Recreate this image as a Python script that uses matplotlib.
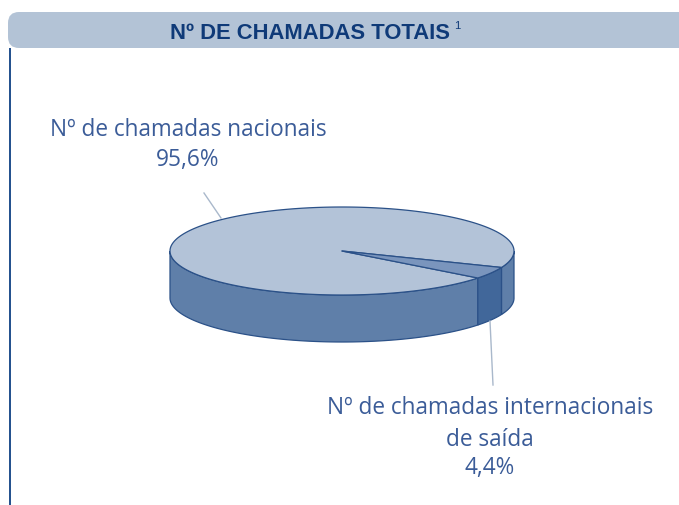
import numpy as np
import matplotlib
matplotlib.use("Agg")
import matplotlib.pyplot as plt
from matplotlib.patches import Polygon, FancyBboxPatch

# data
categories = ["Nº de chamadas nacionais", "Nº de chamadas internacionais\nde saída"]
shares = [95.6, 4.4]
share_labels = ["95,6%", "4,4%"]
title = "Nº DE CHAMADAS TOTAIS"

top_colors = ["#b3c3d8", "#7a95bd"]
side_colors = ["#5f7fa9", "#41679a"]
edge = "#2b5188"
navy = "#0f3a78"
label_col = "#3b5c98"

fig = plt.figure(figsize=(6.79, 5.06), dpi=100)
ax = fig.add_axes([0, 0, 1, 1])
ax.set_xlim(0, 679)
ax.set_ylim(506, 0)
ax.axis("off")

# header band + left rule
band = FancyBboxPatch((8, 13), 720, 36, boxstyle="round,pad=0,rounding_size=11",
                      fc="#b3c3d6", ec="none")
ax.add_patch(band)
ax.plot([10, 10], [49, 506], color="#1f4e8c", lw=1.4, solid_capstyle="butt")
ax.text(310, 33, title, ha="center", va="center", fontsize=15.8, fontweight="bold",
        color=navy, family=["Liberation Sans Narrow", "Liberation Sans", "DejaVu Sans"])
ax.text(457, 26, "1", ha="center", va="center", fontsize=8, color=navy,
        family=["Liberation Sans", "DejaVu Sans"])

# pseudo 3d pie
cx, cy, a, b, depth = 342, 252, 172, 44, 47
end_small = -22.0
angles = np.cumsum([0] + [s / sum(shares) * 360 for s in shares[::-1]])
# small slice first (clockwise position), then the big one
spans = [(end_small - angles[1], end_small),
         (end_small, end_small - angles[1] + 360)]
spans = spans[::-1]  # index 0 = big slice, 1 = small


def pt(theta, dz=0):
    t = np.radians(theta)
    return cx + a * np.cos(t), cy - b * np.sin(t) + dz


def side(t0, t1, color):
    ts = np.linspace(t0, t1, 80)
    top = [pt(t) for t in ts]
    bot = [pt(t, depth) for t in ts[::-1]]
    ax.add_patch(Polygon(top + bot, closed=True, fc=color, ec=edge, lw=0.9))


# visible front side: math angles in [180, 360]
for (t0, t1), col in zip(spans, side_colors):
    for k in (-360, 0, 360):
        lo, hi = max(t0 + k, 180), min(t1 + k, 360)
        if hi > lo:
            side(lo, hi, col)

for (t0, t1), col in zip(spans, top_colors):
    ts = np.linspace(t0, t1, 300)
    poly = [(cx, cy)] + [pt(t) for t in ts]
    ax.add_patch(Polygon(poly, closed=True, fc=col, ec=edge, lw=0.9, joinstyle="round"))

# leader lines
ax.plot([204, 221], [194, 219], color="#a9b8cb", lw=1)
ax.plot([490, 493], [322, 386], color="#a9b8cb", lw=1)

# labels
lab_font = ["Open Sans", "DejaVu Sans"]
lines_1 = [categories[0], share_labels[0]]
for txt, y in zip(lines_1, [130, 160]):
    ax.text(188, y, txt, ha="center", va="center", fontsize=16.3,
            color=label_col, family=lab_font)
lines_2 = categories[1].split("\n") + [share_labels[1]]
for txt, y in zip(lines_2, [408, 440, 468]):
    ax.text(490, y, txt, ha="center", va="center", fontsize=16.3,
            color=label_col, family=lab_font)

fig.savefig("out.png", dpi=100)
